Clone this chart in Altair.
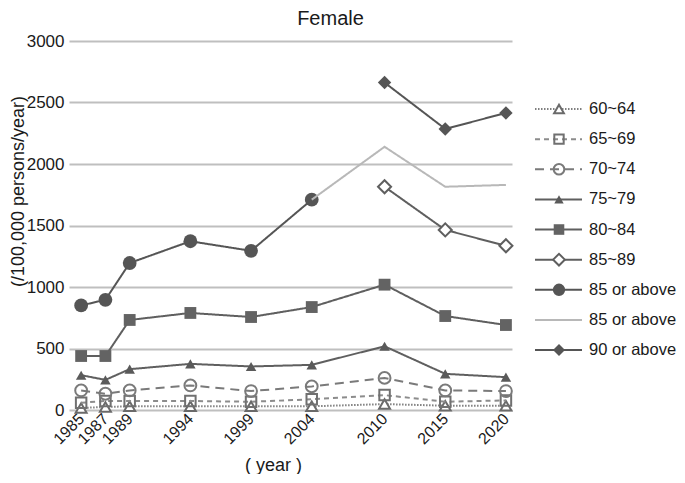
import altair as alt
import pandas as pd

years = [1985, 1987, 1989, 1994, 1999, 2004, 2010, 2015, 2020]

s_60_64 = [16, 25, 30, 30, 30, 30, 48, 35, 35]
s_65_69 = [59, 73, 73, 73, 67, 87, 121, 67, 78]
s_70_74 = [159, 132, 159, 200, 154, 192, 261, 159, 154]
s_75_79 = [283, 245, 332, 375, 354, 367, 518, 294, 267]
s_80_84 = [439, 439, 732, 789, 756, 837, 1019, 764, 691]
s_85_89 = [None, None, None, None, None, None, 1815, 1464, 1335]
s_85_above_a = [850, 896, 1195, 1372, 1294, 1710, None, None, None]
s_85_above_b = [None, None, None, None, None, 1710, 2140, 1815, 1830]
s_90_above = [None, None, None, None, None, None, 2662, 2285, 2415]

labels = ["60~64", "65~69", "70~74", "75~79", "80~84", "85~89",
          "85 or above", "85 or above", "90 or above"]
series_values = [s_60_64, s_65_69, s_70_74, s_75_79, s_80_84, s_85_89,
                 s_85_above_a, s_85_above_b, s_90_above]

# style per series: (line color, dash, shape, filled, fill, marker color, size)
styles = [
    ("#7f7f7f", [1.5, 1.5], "triangle-up", False, "white", "#6a6a6a", 120),
    ("#8c8c8c", [5, 4], "square", False, "transparent", "#707070", 110),
    ("#7a7a7a", [9, 6], "circle", False, "transparent", "#7a7a7a", 140),
    ("#5f5f5f", [1, 0], "triangle-up", True, None, "#5a5a5a", 110),
    ("#5f5f5f", [1, 0], "square", True, None, "#636363", 140),
    ("#5f5f5f", [1, 0], "diamond", False, "white", "#5f5f5f", 170),
    ("#555555", [1, 0], "circle", True, None, "#555555", 190),
    ("#b8b8b8", [1, 0], None, False, None, "#b8b8b8", 0),
    ("#555555", [1, 0], "diamond", True, None, "#555555", 180),
]

font = "Liberation Sans"
LX = alt.Scale(domain=[0, 160])
LY = alt.Scale(domain=[-2.257, 9.99], reverse=True)

layers = []
legend_layers = []
for i, (lab, vals, st) in enumerate(zip(labels, series_values, styles)):
    color, dash, shape, filled, fill, mcolor, size = st
    df = pd.DataFrame({"year": years, "value": vals}).dropna()
    base = alt.Chart(df)
    layers.append(
        base.mark_line(color=color, strokeWidth=2, strokeDash=dash).encode(
            x=alt.X("year:Q"), y=alt.Y("value:Q")
        )
    )
    ldf = pd.DataFrame({"idx": [i], "label": [lab], "x0": [18], "x1": [65], "xm": [42], "xt": [72]})
    lb = alt.Chart(ldf)
    legend_layers.append(
        lb.mark_rule(color=color, strokeWidth=2, strokeDash=dash).encode(
            x=alt.X("x0:Q", scale=LX, axis=None),
            x2="x1:Q",
            y=alt.Y("idx:Q", scale=LY, axis=None),
        )
    )
    if shape is not None:
        mk = dict(shape=shape, filled=filled, color=mcolor, strokeWidth=2, opacity=1)
        if filled:
            mk["fill"] = mcolor
        else:
            mk["fill"] = fill
        layers.append(
            base.mark_point(size=size, **mk).encode(x="year:Q", y="value:Q")
        )
        legend_layers.append(
            lb.mark_point(size=size * 0.8, **mk).encode(
                x=alt.X("xm:Q", scale=LX, axis=None),
                y=alt.Y("idx:Q", scale=LY, axis=None),
            )
        )
    legend_layers.append(
        lb.mark_text(align="left", baseline="middle", font=font, fontSize=16.5, color="#1a1a1a").encode(
            x=alt.X("xt:Q", scale=LX, axis=None),
            y=alt.Y("idx:Q", scale=LY, axis=None),
            text="label:N",
        )
    )

main = alt.layer(*layers).encode(
    x=alt.X("year:Q",
            scale=alt.Scale(domain=[1984, 2020.5], nice=False, zero=False),
            axis=alt.Axis(values=years, format="d", labelAngle=-45, title="( year )",
                          grid=False, ticks=False, domain=False, labelFontSize=16,
                          labelFont=font, titleFont=font, titleFontSize=18,
                          titleFontWeight="normal", labelColor="#1a1a1a",
                          titleColor="#1a1a1a", labelPadding=6,
                          titleX=204, titleY=60, titleAlign="center",
                          titleBaseline="alphabetic",
                          labelAlign="right", labelBaseline="middle", labelOverlap=False)),
    y=alt.Y("value:Q",
            scale=alt.Scale(domain=[0, 3000], nice=False),
            axis=alt.Axis(values=[0, 500, 1000, 1500, 2000, 2500, 3000], format="d",
                          title="(/100,000 persons/year)", grid=True,
                          gridColor="#bfbfbf", gridWidth=2, ticks=False, domain=False,
                          labelFontSize=17, labelFont=font, titleFont=font,
                          titleFontSize=18, titleFontWeight="normal",
                          labelColor="#1a1a1a", titleColor="#1a1a1a",
                          labelPadding=5, titleX=-46, titleY=150,
                          titleAlign="center", titleBaseline="alphabetic")),
).properties(
    width=443, height=369,
    title=alt.TitleParams("Female", font=font, fontSize=20, fontWeight="normal",
                          color="#1a1a1a", anchor="middle", offset=3, dx=40),
)

legend = alt.layer(*legend_layers).properties(width=160, height=369)

chart = alt.hconcat(main, legend, spacing=0).resolve_scale(
    x="independent", y="independent"
).configure_view(stroke=None).properties(
    padding={"left": 1, "top": 1, "right": 0, "bottom": 0}
)

chart.save("out.html", embed_options={"renderer": "svg", "actions": False})
